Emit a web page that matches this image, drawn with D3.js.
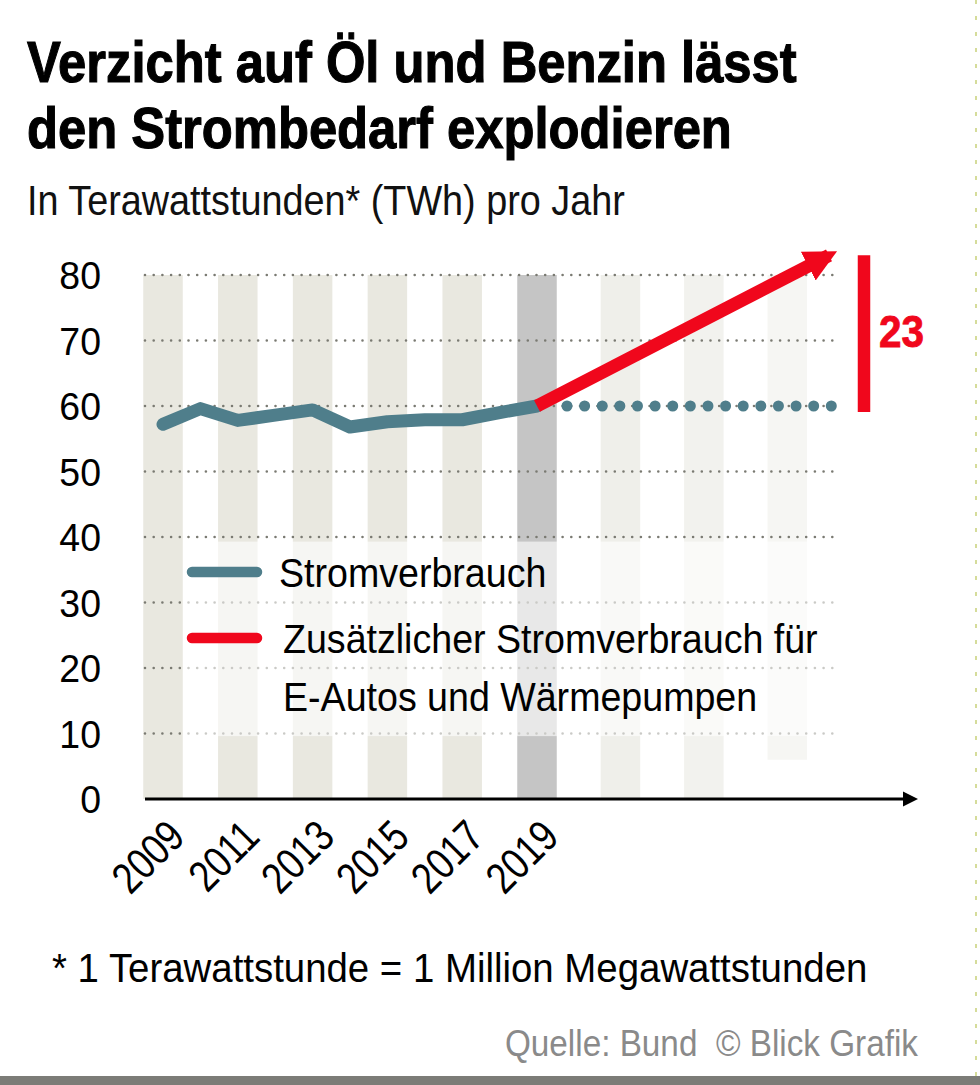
<!DOCTYPE html>
<html><head><meta charset="utf-8">
<script src="https://cdn.jsdelivr.net/npm/d3@7"></script>
<style>
html,body{margin:0;padding:0;background:#fff;}
svg{display:block;}
text{font-family:"Liberation Sans Narrow","Arial Narrow","Liberation Sans",sans-serif;white-space:pre;}
</style></head>
<body>
<svg id="chart" width="980" height="1085"></svg>
<script>
// ---- data ----
const titleLines = ["Verzicht auf Öl und Benzin lässt", "den Strombedarf explodieren"];
const subtitle = "In Terawattstunden* (TWh) pro Jahr";
const years = [2009, 2010, 2011, 2012, 2013, 2014, 2015, 2016, 2017, 2018, 2019];
const consumption = [57.2, 59.6, 57.8, 58.6, 59.4, 56.8, 57.6, 57.9, 57.9, 59.0, 60.0];
const projYears = [2019, 2026];
const projAdditional = [60, 83];
const projBaseline = [60, 60];
const bandYears = [2009, 2011, 2013, 2015, 2017, 2019, 2021, 2023, 2025];
const highlightYear = 2019;
const yTicks = [0, 10, 20, 30, 40, 50, 60, 70, 80];
const xTickLabels = [2009, 2011, 2013, 2015, 2017, 2019];
const deltaLabel = "23";
const legendItems = [
  {key: "base", lines: ["Stromverbrauch"]},
  {key: "add", lines: ["Zusätzlicher Stromverbrauch für", "E-Autos und Wärmepumpen"]}
];
const footnote = "* 1 Terawattstunde = 1 Million Megawattstunden";
const source = "Quelle: Bund  © Blick Grafik";

// ---- style ----
const TEAL = "#4f7e8b", RED = "#f0071c";
const svg = d3.select("#chart");

const x = d3.scaleLinear().domain([2009, 2019, 2026]).range([163, 537, 829]);
const y = d3.scaleLinear().domain([0, 80]).range([799, 275]);
const gridX0 = 145, gridX1 = 838;

// condensed text helper (horizontal squeeze)
function ctext(g, tx, ty, sx, size) {
  return g.append("text").attr("transform", `translate(${tx},${ty}) scale(${sx},1)`).attr("font-size", size);
}

// title
titleLines.forEach((t, i) => {
  ctext(svg, 27, 82 + i * 66, 0.875, 58).attr("font-weight", 700).attr("fill", "#000")
    .attr("stroke", "#000").attr("stroke-width", 1.1).text(t);
});
ctext(svg, 27, 215, 0.9, 42).attr("fill", "#111").text(subtitle);

// bands
const bandW = 39.5;
const bandColor = d => d === highlightYear ? "#c5c5c5" : d < highlightYear ? "#e9e8e0" : (d === 2021 ? "#efefea" : d === 2023 ? "#f2f2ee" : "#f6f6f3");
svg.append("g").selectAll("rect").data(bandYears).join("rect")
  .attr("x", d => x(d) - bandW / 2).attr("width", bandW)
  .attr("y", y(80)).attr("height", d => (d > 2023 ? y(6) : y(0)) - y(80))
  .attr("fill", bandColor);

// gridlines
svg.append("g").selectAll("line").data(yTicks.filter(d => d > 0)).join("line")
  .attr("x1", gridX0).attr("x2", gridX1).attr("y1", d => y(d)).attr("y2", d => y(d))
  .attr("stroke", "#7a7a72").attr("stroke-width", 2.6).attr("stroke-dasharray", "0 8.7").attr("stroke-linecap", "round");

// legend overlay
svg.append("rect").attr("x", 185).attr("y", y(39.3)).attr("width", gridX1 - 185 + 4).attr("height", y(9.6) - y(39.3))
  .attr("fill", "#fff").attr("opacity", 0.6);

// y tick labels
svg.append("g").selectAll("text").data(yTicks).join("text")
  .attr("transform", d => `translate(101,${y(d) + 14}) scale(0.96,1)`).attr("text-anchor", "end")
  .attr("font-size", 39).attr("fill", "#000").text(d => d);

// x axis
svg.append("line").attr("x1", gridX0).attr("x2", 905).attr("y1", y(0)).attr("y2", y(0))
  .attr("stroke", "#000").attr("stroke-width", 3.2);
svg.append("path").attr("d", d3.line()([[903, y(0) - 7.5], [918, y(0)], [903, y(0) + 7.5]]) + "Z").attr("fill", "#000");

// x tick labels
svg.append("g").selectAll("text").data(xTickLabels).join("text")
  .attr("transform", d => `translate(${x(d) + 24},${y(0) + 40}) rotate(-45) scale(0.82,1)`)
  .attr("text-anchor", "end").attr("font-size", 44).attr("fill", "#000").text(d => d);

// projection baseline (dotted)
const dotStart = x(2019) + 30;
svg.append("line").attr("x1", dotStart).attr("x2", x(2026) + 3)
  .attr("y1", y(projBaseline[0])).attr("y2", y(projBaseline[1]))
  .attr("stroke", TEAL).attr("stroke-width", 11).attr("stroke-linecap", "round")
  .attr("stroke-dasharray", "0 17.62");

// consumption line
const line = d3.line().x(d => x(d[0])).y(d => y(d[1]));
svg.append("path").datum(years.map((yr, i) => [yr, consumption[i]]))
  .attr("d", line).attr("fill", "none").attr("stroke", TEAL).attr("stroke-width", 13)
  .attr("stroke-linejoin", "round").attr("stroke-linecap", "round");

// red arrow
svg.append("defs").append("marker").attr("id", "ah").attr("viewBox", "0 0 10 10")
  .attr("refX", 7.2).attr("refY", 5).attr("markerWidth", 2.5).attr("markerHeight", 2.6)
  .attr("markerUnits", "strokeWidth").attr("orient", "auto")
  .append("path").attr("d", "M0,0 L10,5 L0,10 Z").attr("fill", RED);
svg.append("path").datum(projYears.map((yr, i) => [yr, projAdditional[i]]))
  .attr("d", line).attr("fill", "none").attr("stroke", RED).attr("stroke-width", 13)
  .attr("marker-end", "url(#ah)");

// delta bracket
const bx = 864;
svg.append("line").attr("x1", bx).attr("x2", bx).attr("y1", y(projAdditional[1])).attr("y2", y(projAdditional[0]) + 6)
  .attr("stroke", RED).attr("stroke-width", 12.5);
ctext(svg, 879, y(projAdditional[0] + 11.5) + 16, 0.9, 45).attr("font-weight", 700).attr("fill", RED)
  .attr("stroke", RED).attr("stroke-width", 0.8).text(deltaLabel);

// legend
const lg = svg.append("g");
const legY = [572, 638];
legendItems.forEach((it, i) => {
  lg.append("line").attr("x1", 192).attr("x2", 257).attr("y1", legY[i]).attr("y2", legY[i])
    .attr("stroke", it.key === "base" ? TEAL : RED).attr("stroke-width", 10.5).attr("stroke-linecap", "round");
  it.lines.forEach((t, j) => {
    ctext(lg, i === 0 ? 279 : 283, legY[i] + 15 + j * 58, 0.94, 40).attr("fill", "#000").text(t);
  });
});

// footnote & source
ctext(svg, 52, 982, 0.96, 40).attr("fill", "#000").text(footnote);
ctext(svg, 918, 1056, 0.9, 37).attr("text-anchor", "end").attr("fill", "#8a8a8a").text(source);
svg.append("rect").attr("x", 0).attr("y", 1076).attr("width", 980).attr("height", 9).attr("fill", "#7c7c77");
svg.append("line").attr("x1", 976).attr("x2", 976).attr("y1", 0).attr("y2", 1076)
  .attr("stroke", "#d5dc9a").attr("stroke-width", 2).attr("stroke-dasharray", "4 12");
</script>
</body></html>
